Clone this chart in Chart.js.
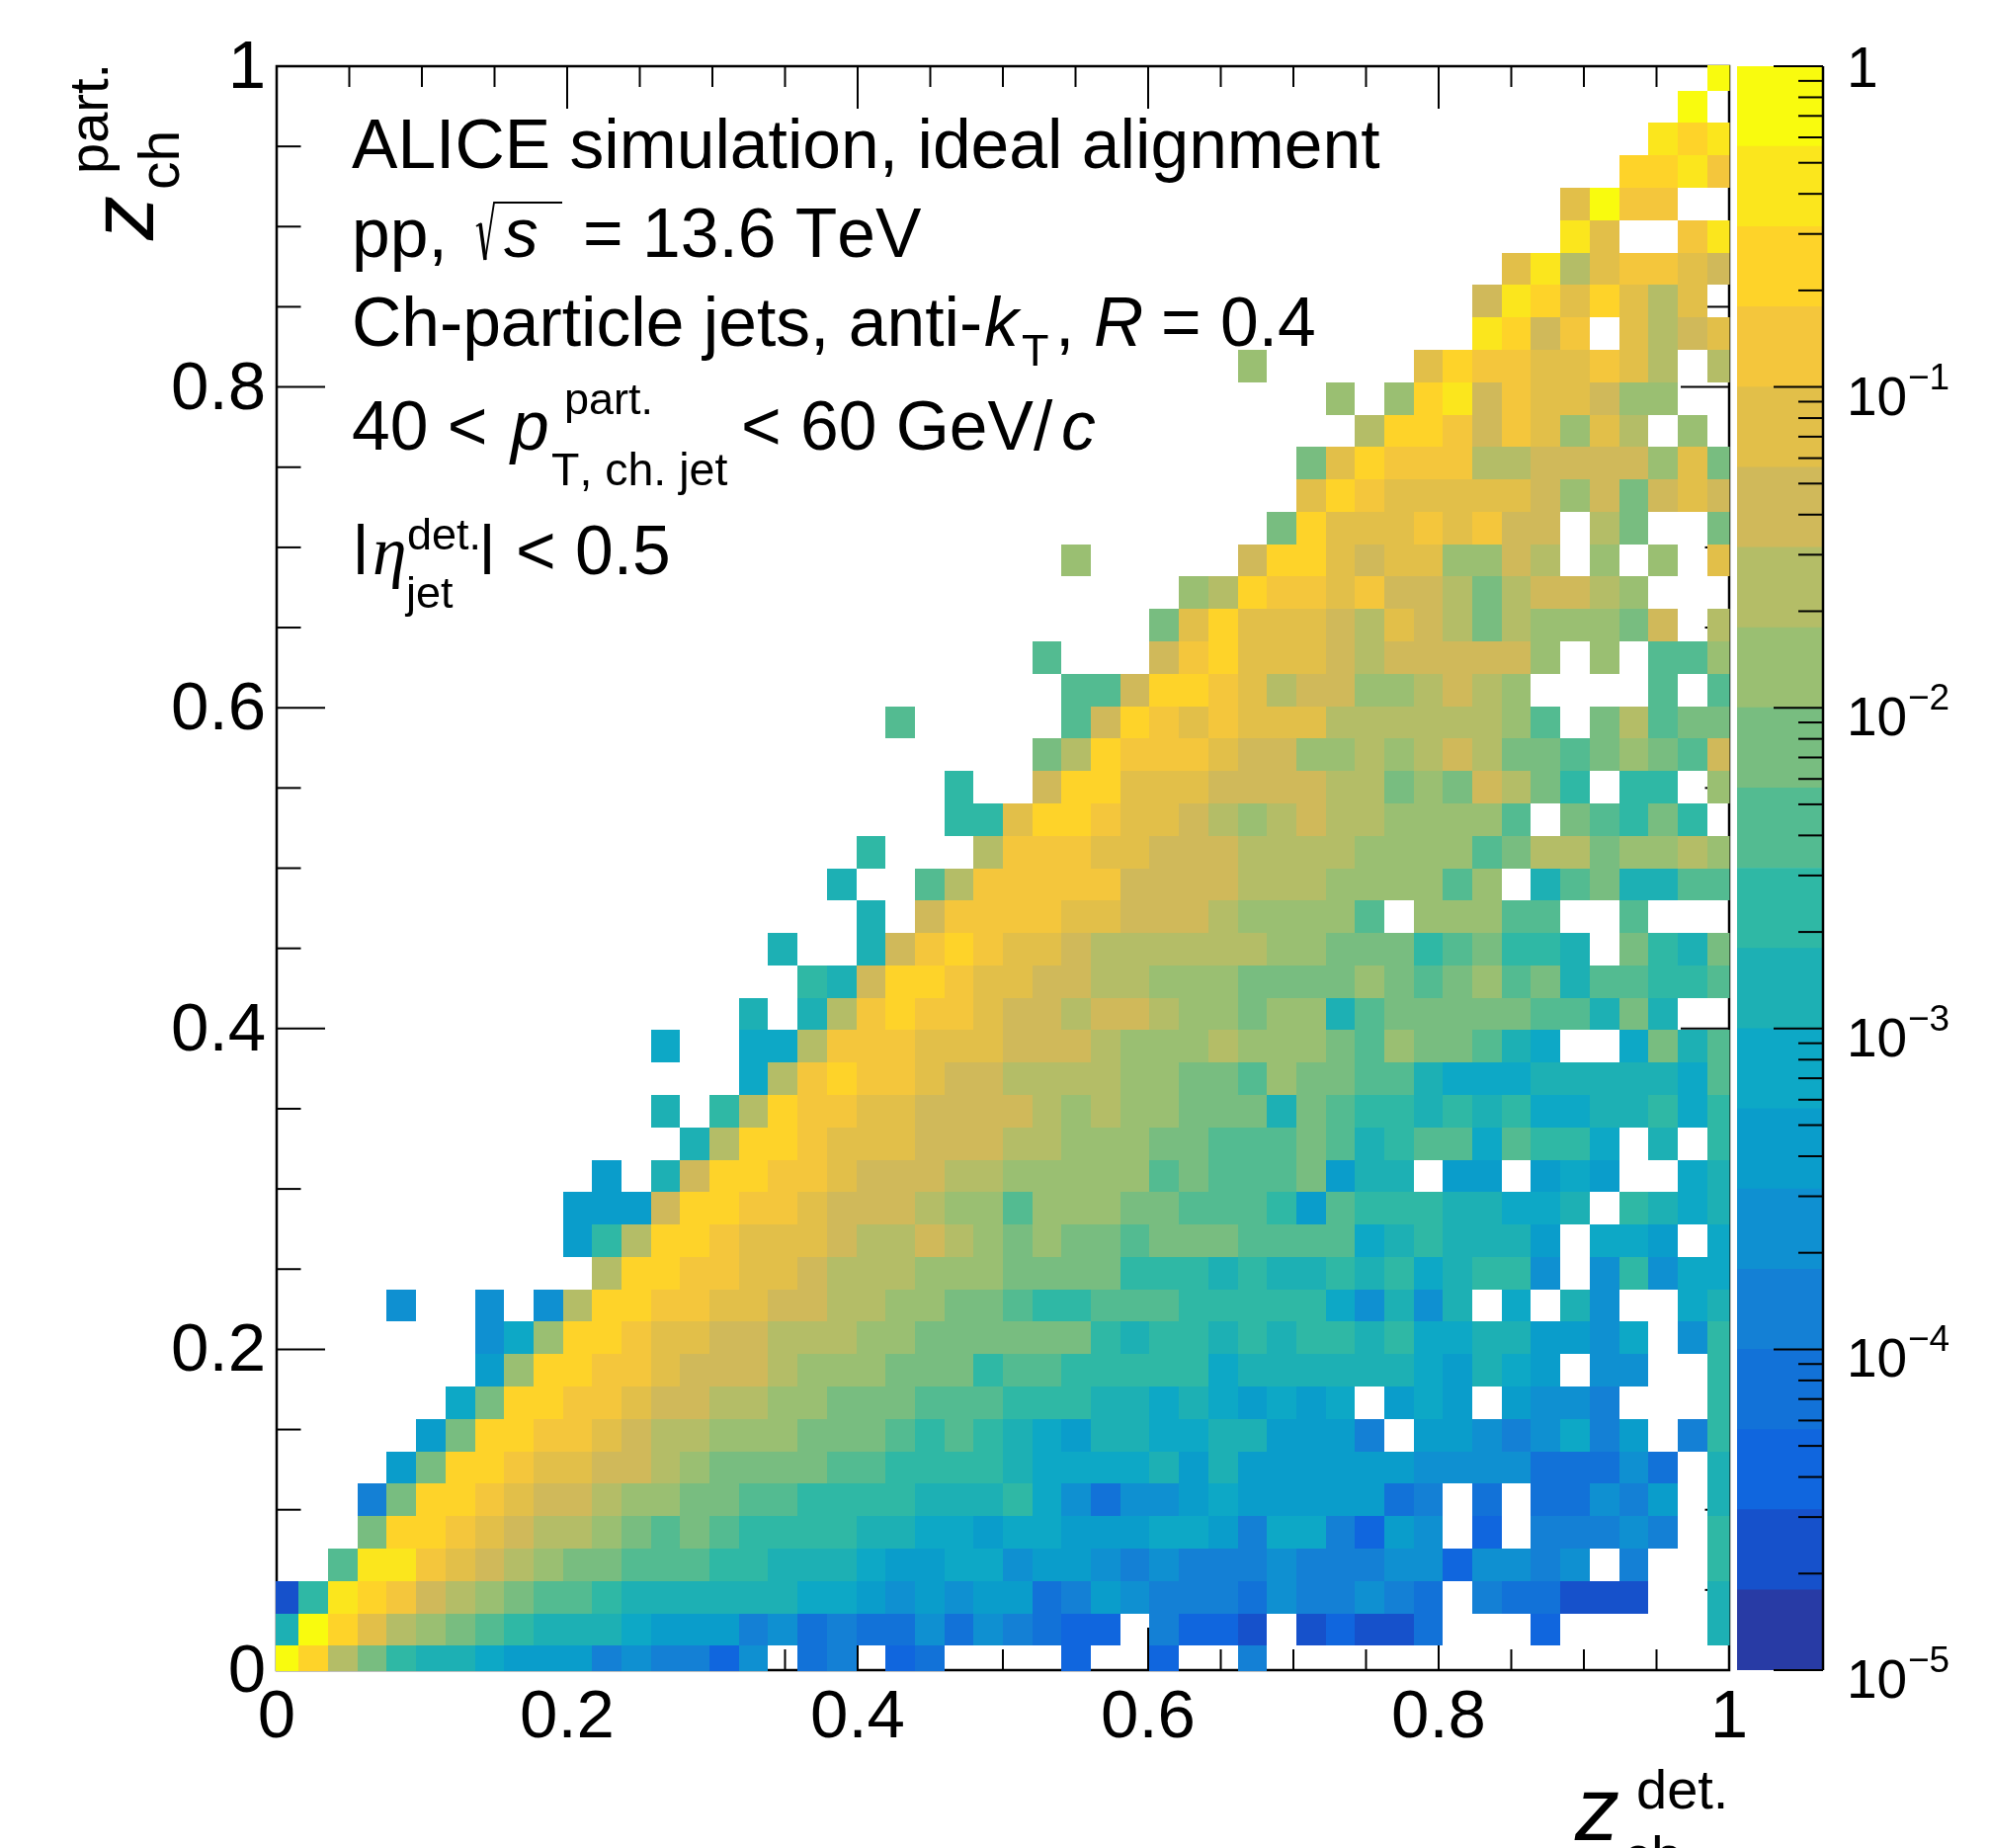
<!DOCTYPE html>
<html>
<head>
<meta charset="utf-8">
<title>ALICE response matrix</title>
<script src="https://cdn.jsdelivr.net/npm/chart.js@4"></script>
<style>
    html, body { margin: 0; padding: 0; background: #fff; }
    #wrap { position: relative; width: 2014px; height: 1870px; overflow: hidden; }
    canvas { position: absolute; left: 0; top: 0; }
</style>
</head>
<body>
<div id="wrap">
    <canvas id="matrixChart" width="2014" height="1870"></canvas>
    <canvas id="paletteChart" width="2014" height="1870"></canvas>
</div>
<script>
// Colour level per cell. One string per z_part row (bottom row first),
// one letter per z_det bin: 'a' is the lowest colour band, 't' the highest, '.' an empty bin.
const zBandRows = [
    'trnljiihgggefeecf' + '.de.cd....c..c..e' + '................',
    'itrpnmlkjiiihggge' + 'fdeddfdfedcc.eccb' + '.bcbbd...c.....i',
    'bjsrqonmlkkjiiiii' + 'ihhgfgfggdegfeeed' + 'feefed.eddbbb..i',
    '..kssqponmllkkkjj' + 'iiihgghhfggfefeee' + 'feeeffcffef.e..j',
    '...lrrqponnmlklkj' + 'jjjiihhghhggghhge' + 'hhecgf.c.eeefe.j',
    '...elrrqpoonmmllk' + 'kjjjjiiijhfdffghg' + 'ggggde.d.ddfeg.i',
    '....glrrqppoonmll' + 'llkkjjjjihhhhigig' + 'gggggffffdddfd.i',
    '.....glrrqqponnmm' + 'mlllkjkjihgiihhii' + 'ggge.ggfefheg.ej',
    '......hlrrqqpoonn' + 'mmlllkkkjjjiihihg' + 'hgh.ghg.gffe...j',
    '.......gmrrqqpooo' + 'nmmmllljkkjjjjjhi' + 'iiiiihgihg.ff..j',
    '.......fhmrrqppoo' + 'nnnmmlllllljijjij' + 'ijjijhhiiggfh.fj',
    '....f..f.fnrrqqpp' + 'oonnmmllkjjkkkjjj' + 'jjhfifi.h.if..hi',
    '...........nrrqqp' + 'ponnnmmmlllljjjij' + 'iijijhijjf.fjfhh',
    '..........gjnrrqp' + 'pponnonmlmllklllk' + 'kkkhijiiig.hhg.h',
    '..........gggorrq' + 'qpooonmmkmmmllkkk' + 'jgkjjjiihhi.jihi',
    '...........g.iorr' + 'qqpooonnmmmmmklkk' + 'klgii.gg.ghg..hi',
    '..............inr' + 'rqpppooonnmmmllkk' + 'klkijkkhkjjh.i.j',
    '.............i.jn' + 'rqqppoooonmnmmlll' + 'ilkjjijijhhiijhj',
    '................h' + 'nqrqqpoonnnnmmllk' + 'mllkkihhhiiiiihk',
    '.............h..h' + 'hnqqqpppooonmmmnm' + 'mmlkmllkih..hlik',
    '................i' + '.inqrqqpoonoonmml' + 'mmiklllllkkili..',
    '.................' + '.jiorrqppoonnmmml' + 'lllmlklmklikkjjk',
    '.................' + 'i..ioqrqpponnnnnn' + 'mmllljkljji.ljil',
    '.................' + '...i.oqqqqppooonm' + 'mmmk.mmmkk..k...',
    '.................' + '..i..knqqqqqoooon' + 'nnmmmmkm.ikliikk',
    '.................' + '...j...nqqqppooon' + 'nnnmmmmklnnlmmnm',
    '.................' + '......jjprrqpponm' + 'nonnmmmmk.lkjlj.',
    '.................' + '......j..orrpppoo' + 'oonnlmlonlj.jj.m',
    '.................' + '.........lnrqqqpo' + 'ommnmnonllklmlko',
    '.................' + '....k.....korqpqp' + 'ppnnnnnnmk.lnkll',
    '.................' + '..........kkorrqp' + 'noommnonm....k.k',
    '.................' + '.........k...oqrp' + 'pponooooom.m.kkm',
    '.................' + '.............lprp' + 'pponponlnmmmlo.n',
    '.................' + '..............mnr' + 'qqpqoonlnoonm...',
    '.................' + '..........m.....o' + 'rrpoppmmon.m.m.p',
    '.................' + '.................' + 'lrpppqpqoo.nl..l',
    '.................' + '.................' + '.prqpppppomolopo',
    '.................' + '.................' + '.lprqqqnnoooompl',
    '.................' + '.................' + '...nrrqoqpmpn.m.',
    '.................' + '.................' + '..m.mrsoqppomm..',
    '.................' + '................m' + '.....prqqppqpn.n',
    '.................' + '.................' + '.......sroq.pnop',
    '.................' + '.................' + '.......osrprpnp.',
    '.................' + '.................' + '........psnpqqpo',
    '.................' + '.................' + '..........sp..qs',
    '.................' + '.................' + '..........ptqq..',
    '.................' + '.................' + '............rrsq',
    '.................' + '.................' + '.............srs',
    '.................' + '.................' + '..............t.',
    '.................' + '.................' + '...............t'
];

const bandLetters = 'abcdefghijklmnopqrst';
const bandColors = [
    '#283ba5', '#1651cb', '#1066de', '#1272d8', '#1480d5',
    '#0f90d1', '#0a9dcb', '#0da8c6', '#1db0b4', '#2fb8a5',
    '#53bb91', '#78bd80', '#9abf72', '#b4bd67', '#d0b95a',
    '#e2bf49', '#f4c63c', '#fed329', '#fbe61d', '#f9fb0e'
];

const xBinFirstEdge = -0.005;
const binWidth = 0.0202;

const majorTicks = [0, 0.2, 0.4, 0.6, 0.8, 1];
const minorTicks = [0.05, 0.1, 0.15, 0.25, 0.3, 0.35, 0.45, 0.5, 0.55, 0.65, 0.7, 0.75, 0.85, 0.9, 0.95];
const paletteDecades = [-5, -4, -3, -2, -1, 0];
const paletteMinor = [2, 3, 4, 5, 6, 7, 8, 9];

const black = '#000';
const sans = '"Liberation Sans", Arial, sans-serif';
const serif = '"Liberation Serif", serif';

// band index -> lower edge of that band on the z axis (4 bands per decade)
const bandLow = b => Math.pow(10, -5 + b / 4);

const cells = [];
zBandRows.forEach((row, iy) => {
    [...row].forEach((ch, ix) => {
        const band = bandLetters.indexOf(ch);
        if (band < 0) return;
        cells.push({
            x: xBinFirstEdge + binWidth * (ix + 0.5),
            y: xBinFirstEdge + binWidth * (iy + 0.5),
            z: bandLow(band + 0.5),
            band: band
        });
    });
});

function line(ctx, x1, y1, x2, y2, width) {
    ctx.lineWidth = width;
    ctx.beginPath();
    ctx.moveTo(x1, y1);
    ctx.lineTo(x2, y2);
    ctx.stroke();
}

function text(ctx, str, x, y, font, size) {
    ctx.font = font + ' ' + size + 'px ' + sans;
    ctx.fillText(str, x, y);
}

// the |eta| bars stop at the baseline in the source image
function bar(ctx, x, y, size) {
    ctx.save();
    ctx.beginPath();
    ctx.rect(x - 5, y - size, size, size);
    ctx.clip();
    text(ctx, '|', x, y, '', size);
    ctx.restore();
}

// Ticks and frame sit under the cells, the cells then hide them
const matrixPlugin = {
    id: 'matrixCells',
    beforeDatasetsDraw(chart) {
        const { ctx, chartArea: a, scales: { x, y } } = chart;
        ctx.save();
        ctx.strokeStyle = black;
        const tick = (v, sideLen, topLen) => {
            const px = x.getPixelForValue(v);
            const py = y.getPixelForValue(v);
            line(ctx, px, a.bottom, px, a.bottom - topLen, 2);
            line(ctx, px, a.top, px, a.top + topLen, 2);
            line(ctx, a.left, py, a.left + sideLen, py, 2);
            line(ctx, a.right, py, a.right - sideLen, py, 2);
        };
        majorTicks.forEach(v => tick(v, 49, 43));
        minorTicks.forEach(v => tick(v, 24.5, 21));
        ctx.lineWidth = 2.5;
        ctx.strokeRect(a.left, a.top, a.width, a.height);

        ctx.beginPath();
        ctx.rect(a.left - 1, a.top - 1, a.width + 1.5, a.height + 2);
        ctx.clip();
        chart.data.datasets[0].data.forEach(c => {
            const x0 = Math.round(x.getPixelForValue(c.x - binWidth / 2));
            const x1 = Math.round(x.getPixelForValue(c.x + binWidth / 2));
            const y0 = Math.round(y.getPixelForValue(c.y + binWidth / 2));
            const y1 = Math.round(y.getPixelForValue(c.y - binWidth / 2));
            ctx.fillStyle = bandColors[c.band];
            ctx.fillRect(x0, y0, x1 - x0, y1 - y0);
        });
        ctx.restore();
    },
    afterDraw(chart) {
        const ctx = chart.ctx;
        ctx.save();
        ctx.fillStyle = black;
        ctx.strokeStyle = black;
        ctx.textAlign = 'left';
        ctx.textBaseline = 'alphabetic';
        ctx.fontKerning = 'none';

        text(ctx, 'ALICE simulation, ideal alignment', 356, 170, '', 69.6);

        text(ctx, 'pp,', 356, 260, '', 69.6);
        ctx.lineJoin = 'miter';
        ctx.beginPath();
        ctx.moveTo(482, 229);
        ctx.lineTo(487, 226);
        ctx.lineWidth = 2;
        ctx.stroke();
        ctx.beginPath();
        ctx.moveTo(486, 226);
        ctx.lineTo(491, 263);
        ctx.lineWidth = 3.5;
        ctx.stroke();
        ctx.beginPath();
        ctx.moveTo(491, 263);
        ctx.lineTo(500, 205);
        ctx.lineTo(569, 205);
        ctx.lineWidth = 1.8;
        ctx.stroke();
        text(ctx, 's', 510, 260, 'italic', 69.6);
        text(ctx, '= 13.6 TeV', 590, 260, '', 69.6);

        text(ctx, 'Ch-particle jets, anti-', 356, 350, '', 69.6);
        text(ctx, 'k', 996, 350, 'italic', 69.6);
        text(ctx, 'T', 1034, 370, '', 45);
        text(ctx, ',', 1068, 350, '', 69.6);
        text(ctx, 'R', 1107, 350, 'italic', 69.6);
        text(ctx, '= 0.4', 1175, 350, '', 69.6);

        text(ctx, '40 <', 356, 455, '', 69.6);
        text(ctx, 'p', 517, 455, 'italic', 69.6);
        text(ctx, 'part.', 571, 419, '', 45);
        text(ctx, 'T, ch. jet', 558, 491, '', 46.5);
        text(ctx, '< 60 GeV/', 750, 455, '', 69.6);
        text(ctx, 'c', 1074, 455, 'italic', 69.6);

        bar(ctx, 356, 581, 69.6);
        ctx.font = 'italic 69.6px ' + serif;
        ctx.fillText('\u03B7', 377, 581);
        text(ctx, 'det.', 412, 556, '', 45);
        text(ctx, 'jet', 411, 615, '', 45);
        bar(ctx, 484, 581, 69.6);
        text(ctx, '< 0.5', 522, 581, '', 69.6);

        // x axis title runs off the bottom of the page, as in the source image
        text(ctx, 'z', 1594, 1862, 'italic', 90);
        text(ctx, 'det.', 1656, 1830, '', 56);
        text(ctx, 'ch', 1643, 1897, '', 56);

        // y axis title
        const rotated = (str, bx, by, font, size) => {
            ctx.save();
            ctx.translate(bx, by);
            ctx.rotate(-Math.PI / 2);
            text(ctx, str, 0, 0, font, size);
            ctx.restore();
        };
        rotated('z', 155, 243, 'italic', 90);
        rotated('ch', 181, 192, '', 57);
        rotated('part.', 109, 176, '', 56);

        ctx.restore();
    }
};

new Chart(document.getElementById('matrixChart'), {
    type: 'scatter',
    data: { datasets: [{ data: cells, pointRadius: 0, pointHoverRadius: 0 }] },
    options: {
        responsive: false,
        animation: false,
        events: [],
        layout: { padding: { top: 67, right: 264, bottom: 0, left: 0 } },
        plugins: { legend: { display: false }, tooltip: { enabled: false } },
        scales: {
            x: {
                type: 'linear',
                min: 0,
                max: 1,
                afterFit(scale) { scale.height = 180; },
                grid: { display: false },
                border: { display: false },
                ticks: {
                    stepSize: 0.2,
                    padding: 0,
                    maxRotation: 0,
                    autoSkip: false,
                    color: black,
                    font: { family: sans, size: 69 },
                    callback: v => String(Number(v.toFixed(1)))
                }
            },
            y: {
                type: 'linear',
                min: 0,
                max: 1,
                afterFit(scale) { scale.width = 280; },
                grid: { display: false },
                border: { display: false },
                ticks: {
                    stepSize: 0.2,
                    padding: 3,
                    labelOffset: 3,
                    autoSkip: false,
                    color: black,
                    font: { family: sans, size: 69 },
                    callback: v => String(Number(v.toFixed(1)))
                }
            }
        }
    },
    plugins: [matrixPlugin]
});

// Colour scale: one floating bar per band on a log axis
const palettePlugin = {
    id: 'paletteAxis',
    afterDraw(chart) {
        const { ctx, chartArea: a, scales: { y } } = chart;
        ctx.save();
        ctx.strokeStyle = black;
        ctx.fillStyle = black;
        line(ctx, a.right, a.top, a.right, a.bottom, 2.5);
        paletteDecades.forEach((exp, i) => {
            const py = y.getPixelForValue(Math.pow(10, exp));
            line(ctx, a.right, py, a.right - 50, py, 2);
            if (i < paletteDecades.length - 1) {
                paletteMinor.forEach(m => {
                    const my = y.getPixelForValue(m * Math.pow(10, exp));
                    line(ctx, a.right, my, a.right - 25, my, 2);
                });
            }
            if (exp === 0) {
                text(ctx, '1', 1869, py + 21, '', 57);
            } else {
                text(ctx, '10', 1869, py + 28, '', 55);
                text(ctx, '\u2212' + Math.abs(exp), 1931, py + 2, '', 37);
            }
        });
        ctx.restore();
    }
};

new Chart(document.getElementById('paletteChart'), {
    type: 'bar',
    data: {
        labels: ['z'],
        datasets: bandColors.map((color, b) => ({
            data: [[bandLow(b), bandLow(b + 1)]],
            backgroundColor: color,
            borderWidth: 0,
            grouped: false,
            barPercentage: 1,
            categoryPercentage: 1
        }))
    },
    options: {
        responsive: false,
        animation: false,
        events: [],
        layout: { padding: { top: 67, right: 169, bottom: 180, left: 1758 } },
        plugins: { legend: { display: false }, tooltip: { enabled: false } },
        scales: {
            x: { display: false },
            y: { display: false, type: 'logarithmic', min: 1e-5, max: 1 }
        }
    },
    plugins: [palettePlugin]
});
</script>
</body>
</html>
